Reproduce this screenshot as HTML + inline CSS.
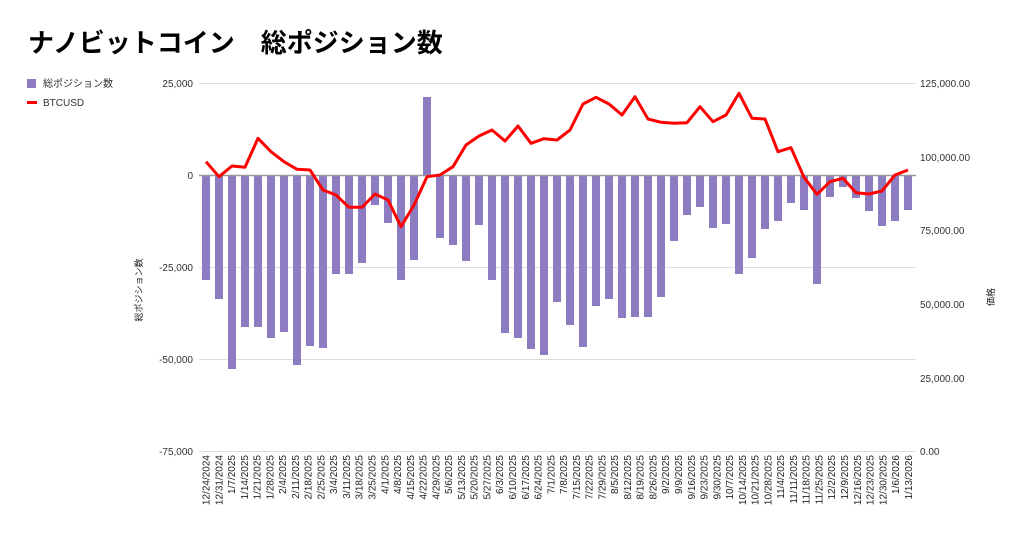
<!DOCTYPE html>
<html><head><meta charset="utf-8"><style>
body{margin:0;background:#fff}
svg{display:block;font-family:"Liberation Sans","Noto Sans CJK JP",sans-serif}
.xl text{font-size:10px;fill:#222;text-anchor:end}
</style></head><body>
<svg width="1024" height="534" viewBox="0 0 1024 534" xmlns="http://www.w3.org/2000/svg">
<text x="28" y="52" font-size="26" font-weight="bold" fill="#000">ナノビットコイン　総ポジション数</text>
<rect x="27" y="79" width="9" height="9" fill="#8e7cc3"/>
<text x="43" y="87" font-size="10" fill="#333">総ポジション数</text>
<rect x="27" y="101" width="10" height="3" fill="#f00"/>
<text x="43" y="106" font-size="10" fill="#333">BTCUSD</text>
<g stroke="#ddd" stroke-width="1">
<line x1="199" x2="916" y1="83.5" y2="83.5"/>
<line x1="199" x2="916" y1="267.5" y2="267.5"/>
<line x1="199" x2="916" y1="359.5" y2="359.5"/>
<line x1="199" x2="916" y1="451.5" y2="451.5"/>
</g>
<g font-size="10" fill="#333" text-anchor="end">
<text x="193" y="87">25,000</text>
<text x="193" y="179">0</text>
<text x="193" y="271">-25,000</text>
<text x="193" y="363">-50,000</text>
<text x="193" y="455">-75,000</text>
</g>
<g font-size="10" fill="#333">
<text x="920" y="87">125,000.00</text>
<text x="920" y="161">100,000.00</text>
<text x="920" y="234">75,000.00</text>
<text x="920" y="308">50,000.00</text>
<text x="920" y="382">25,000.00</text>
<text x="920" y="455">0.00</text>
</g>
<text transform="translate(142,290) rotate(-90)" font-size="9" fill="#222" text-anchor="middle">総ポジション数</text>
<text transform="translate(994,297) rotate(-90)" font-size="9" fill="#222" text-anchor="middle">価格</text>
<g fill="#8e7cc3">
<rect x="202" y="175.5" width="8" height="104.5"/>
<rect x="215" y="175.5" width="8" height="123.5"/>
<rect x="228" y="175.5" width="8" height="193.5"/>
<rect x="241" y="175.5" width="8" height="151.5"/>
<rect x="254" y="175.5" width="8" height="151.5"/>
<rect x="267" y="175.5" width="8" height="162.5"/>
<rect x="280" y="175.5" width="8" height="156.5"/>
<rect x="293" y="175.5" width="8" height="189.5"/>
<rect x="306" y="175.5" width="8" height="170.5"/>
<rect x="319" y="175.5" width="8" height="172.5"/>
<rect x="332" y="175.5" width="8" height="98.5"/>
<rect x="345" y="175.5" width="8" height="98.5"/>
<rect x="358" y="175.5" width="8" height="87.5"/>
<rect x="371" y="175.5" width="8" height="29.5"/>
<rect x="384" y="175.5" width="8" height="47.5"/>
<rect x="397" y="175.5" width="8" height="104.5"/>
<rect x="410" y="175.5" width="8" height="84.5"/>
<rect x="423" y="97" width="8" height="78.5"/>
<rect x="436" y="175.5" width="8" height="62.5"/>
<rect x="449" y="175.5" width="8" height="69.5"/>
<rect x="462" y="175.5" width="8" height="85.5"/>
<rect x="475" y="175.5" width="8" height="49.5"/>
<rect x="488" y="175.5" width="8" height="104.5"/>
<rect x="501" y="175.5" width="8" height="157.5"/>
<rect x="514" y="175.5" width="8" height="162.5"/>
<rect x="527" y="175.5" width="8" height="173.5"/>
<rect x="540" y="175.5" width="8" height="179.5"/>
<rect x="553" y="175.5" width="8" height="126.5"/>
<rect x="566" y="175.5" width="8" height="149.5"/>
<rect x="579" y="175.5" width="8" height="171.5"/>
<rect x="592" y="175.5" width="8" height="130.5"/>
<rect x="605" y="175.5" width="8" height="123.5"/>
<rect x="618" y="175.5" width="8" height="142.5"/>
<rect x="631" y="175.5" width="8" height="141.5"/>
<rect x="644" y="175.5" width="8" height="141.5"/>
<rect x="657" y="175.5" width="8" height="121.5"/>
<rect x="670" y="175.5" width="8" height="65.5"/>
<rect x="683" y="175.5" width="8" height="39.5"/>
<rect x="696" y="175.5" width="8" height="31.5"/>
<rect x="709" y="175.5" width="8" height="52.5"/>
<rect x="722" y="175.5" width="8" height="48.5"/>
<rect x="735" y="175.5" width="8" height="98.5"/>
<rect x="748" y="175.5" width="8" height="82.5"/>
<rect x="761" y="175.5" width="8" height="53.5"/>
<rect x="774" y="175.5" width="8" height="45.5"/>
<rect x="787" y="175.5" width="8" height="27.5"/>
<rect x="800" y="175.5" width="8" height="34.5"/>
<rect x="813" y="175.5" width="8" height="108.5"/>
<rect x="826" y="175.5" width="8" height="21.5"/>
<rect x="839" y="175.5" width="8" height="11.5"/>
<rect x="852" y="175.5" width="8" height="22.5"/>
<rect x="865" y="175.5" width="8" height="35.5"/>
<rect x="878" y="175.5" width="8" height="50.5"/>
<rect x="891" y="175.5" width="8" height="45.5"/>
<rect x="904" y="175.5" width="8" height="34.5"/>
</g>
<line x1="199" x2="916" y1="175.5" y2="175.5" stroke="#999" stroke-width="1.5"/>
<polyline fill="none" stroke="#f00" stroke-width="3" stroke-linejoin="round" points="206,161.7 219,176.7 232,166 245,167.3 258,138.3 271,151.7 284,161.7 297,169.3 310,170 323,190 336,195 349,207.3 362,207.3 375,194 388,200 401,226.7 414,205 427,176.7 440,175 453,166.7 466,145 479,136 492,130 505,141 518,126 531,143.3 544,138.7 557,140 570,130 583,104 596,97.3 609,104 622,115 635,96.7 648,119 661,122.3 674,123.3 687,122.7 700,106.7 713,121.7 726,115 739,93.3 752,118.3 765,119 778,151.7 791,147.7 804,177.3 817,194.3 830,181.7 843,178.3 856,192.7 869,194 882,191 895,175 908,170"/>
<g class="xl">
<text transform="translate(209.5,455) rotate(-90)">12/24/2024</text>
<text transform="translate(222.3,455) rotate(-90)">12/31/2024</text>
<text transform="translate(235,455) rotate(-90)">1/7/2025</text>
<text transform="translate(247.8,455) rotate(-90)">1/14/2025</text>
<text transform="translate(260.6,455) rotate(-90)">1/21/2025</text>
<text transform="translate(273.4,455) rotate(-90)">1/28/2025</text>
<text transform="translate(286.1,455) rotate(-90)">2/4/2025</text>
<text transform="translate(298.9,455) rotate(-90)">2/11/2025</text>
<text transform="translate(311.7,455) rotate(-90)">2/18/2025</text>
<text transform="translate(324.4,455) rotate(-90)">2/25/2025</text>
<text transform="translate(337.2,455) rotate(-90)">3/4/2025</text>
<text transform="translate(350,455) rotate(-90)">3/11/2025</text>
<text transform="translate(362.7,455) rotate(-90)">3/18/2025</text>
<text transform="translate(375.5,455) rotate(-90)">3/25/2025</text>
<text transform="translate(388.3,455) rotate(-90)">4/1/2025</text>
<text transform="translate(401.1,455) rotate(-90)">4/8/2025</text>
<text transform="translate(413.8,455) rotate(-90)">4/15/2025</text>
<text transform="translate(426.6,455) rotate(-90)">4/22/2025</text>
<text transform="translate(439.4,455) rotate(-90)">4/29/2025</text>
<text transform="translate(452.1,455) rotate(-90)">5/6/2025</text>
<text transform="translate(464.9,455) rotate(-90)">5/13/2025</text>
<text transform="translate(477.7,455) rotate(-90)">5/20/2025</text>
<text transform="translate(490.4,455) rotate(-90)">5/27/2025</text>
<text transform="translate(503.2,455) rotate(-90)">6/3/2025</text>
<text transform="translate(516,455) rotate(-90)">6/10/2025</text>
<text transform="translate(528.8,455) rotate(-90)">6/17/2025</text>
<text transform="translate(541.5,455) rotate(-90)">6/24/2025</text>
<text transform="translate(554.3,455) rotate(-90)">7/1/2025</text>
<text transform="translate(567.1,455) rotate(-90)">7/8/2025</text>
<text transform="translate(579.8,455) rotate(-90)">7/15/2025</text>
<text transform="translate(592.6,455) rotate(-90)">7/22/2025</text>
<text transform="translate(605.4,455) rotate(-90)">7/29/2025</text>
<text transform="translate(618.1,455) rotate(-90)">8/5/2025</text>
<text transform="translate(630.9,455) rotate(-90)">8/12/2025</text>
<text transform="translate(643.7,455) rotate(-90)">8/19/2025</text>
<text transform="translate(656.4,455) rotate(-90)">8/26/2025</text>
<text transform="translate(669.2,455) rotate(-90)">9/2/2025</text>
<text transform="translate(682,455) rotate(-90)">9/9/2025</text>
<text transform="translate(694.8,455) rotate(-90)">9/16/2025</text>
<text transform="translate(707.5,455) rotate(-90)">9/23/2025</text>
<text transform="translate(720.3,455) rotate(-90)">9/30/2025</text>
<text transform="translate(733.1,455) rotate(-90)">10/7/2025</text>
<text transform="translate(745.8,455) rotate(-90)">10/14/2025</text>
<text transform="translate(758.6,455) rotate(-90)">10/21/2025</text>
<text transform="translate(771.4,455) rotate(-90)">10/28/2025</text>
<text transform="translate(784.2,455) rotate(-90)">11/4/2025</text>
<text transform="translate(796.9,455) rotate(-90)">11/11/2025</text>
<text transform="translate(809.7,455) rotate(-90)">11/18/2025</text>
<text transform="translate(822.5,455) rotate(-90)">11/25/2025</text>
<text transform="translate(835.2,455) rotate(-90)">12/2/2025</text>
<text transform="translate(848,455) rotate(-90)">12/9/2025</text>
<text transform="translate(860.8,455) rotate(-90)">12/16/2025</text>
<text transform="translate(873.5,455) rotate(-90)">12/23/2025</text>
<text transform="translate(886.3,455) rotate(-90)">12/30/2025</text>
<text transform="translate(899.1,455) rotate(-90)">1/6/2026</text>
<text transform="translate(911.9,455) rotate(-90)">1/13/2026</text>
</g>
</svg>
</body></html>
